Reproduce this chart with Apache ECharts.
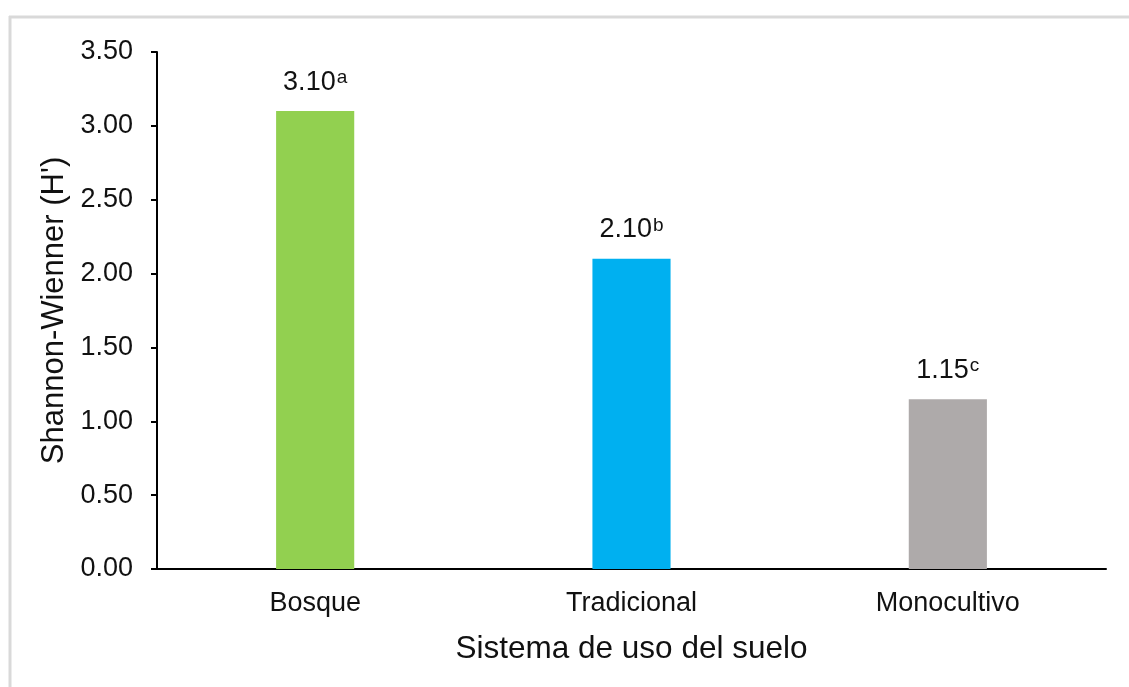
<!DOCTYPE html>
<html>
<head>
<meta charset="utf-8">
<style>
  html, body { margin: 0; padding: 0; background: #ffffff; }
  #chart { width: 1129px; height: 687px; }
</style>
<script src="https://cdn.jsdelivr.net/npm/echarts@6/dist/echarts.min.js"></script>
</head>
<body>
<div id="chart"></div>
<script>
// Land-use systems and their Shannon-Wiener diversity index
const categories = ['Bosque', 'Tradicional', 'Monocultivo'];
const values = [3.10, 2.10, 1.15];
const letters = ['a', 'b', 'c'];
const barColors = ['#92D050', '#00B0F0', '#AEAAAA'];

const FONT = '"Liberation Sans", Arial, sans-serif';

const chart = echarts.init(document.getElementById('chart'), null, { renderer: 'canvas' });

chart.setOption({
  backgroundColor: '#ffffff',
  animation: false,
  textStyle: { fontFamily: FONT, color: '#000000' },
  graphic: [
    { type: 'line', shape: { x1: 9, y1: 17, x2: 1129, y2: 17 }, style: { stroke: '#d9d9d9', lineWidth: 3 } },
    { type: 'line', shape: { x1: 10, y1: 16, x2: 10, y2: 687 }, style: { stroke: '#d9d9d9', lineWidth: 3 } }
  ],
  grid: { left: 157, right: 23, top: 52, bottom: 118, containLabel: false },
  xAxis: {
    type: 'category',
    data: categories,
    name: 'Sistema de uso del suelo',
    nameLocation: 'middle',
    nameGap: 64,
    nameTextStyle: { fontFamily: FONT, fontSize: 31.5, color: '#111111' },
    axisLine: { lineStyle: { color: '#000000', width: 2 } },
    axisTick: { show: false },
    axisLabel: { fontFamily: FONT, fontSize: 27, color: '#111111', margin: 21 }
  },
  yAxis: {
    type: 'value',
    min: 0,
    max: 3.5,
    interval: 0.5,
    name: "Shannon-Wienner (H')",
    nameLocation: 'middle',
    nameGap: 85,
    nameRotate: 90,
    nameTextStyle: { fontFamily: FONT, fontSize: 31, color: '#111111' },
    axisLine: { show: true, lineStyle: { color: '#000000', width: 2 } },
    axisTick: { show: true, length: 6, lineStyle: { color: '#000000', width: 2 } },
    splitLine: { show: false },
    axisLabel: {
      fontFamily: FONT, fontSize: 27, color: '#111111', margin: 24,
      formatter: v => v.toFixed(2)
    }
  },
  series: [{
    type: 'bar',
    barWidth: '24.7%',
    data: values.map((v, i) => ({ value: v, itemStyle: { color: barColors[i] } })),
    label: {
      show: true,
      position: 'top',
      distance: 14,
      formatter: p => '{v|' + p.value.toFixed(2) + '}{s|' + letters[p.dataIndex] + '}',
      rich: {
        v: { fontFamily: FONT, fontSize: 27, color: '#111111', lineHeight: 30 },
        s: { fontFamily: FONT, fontSize: 19, color: '#111111', verticalAlign: 'top', lineHeight: 30, padding: [1, 0, 0, 1] }
      }
    }
  }]
});
</script>
</body>
</html>
